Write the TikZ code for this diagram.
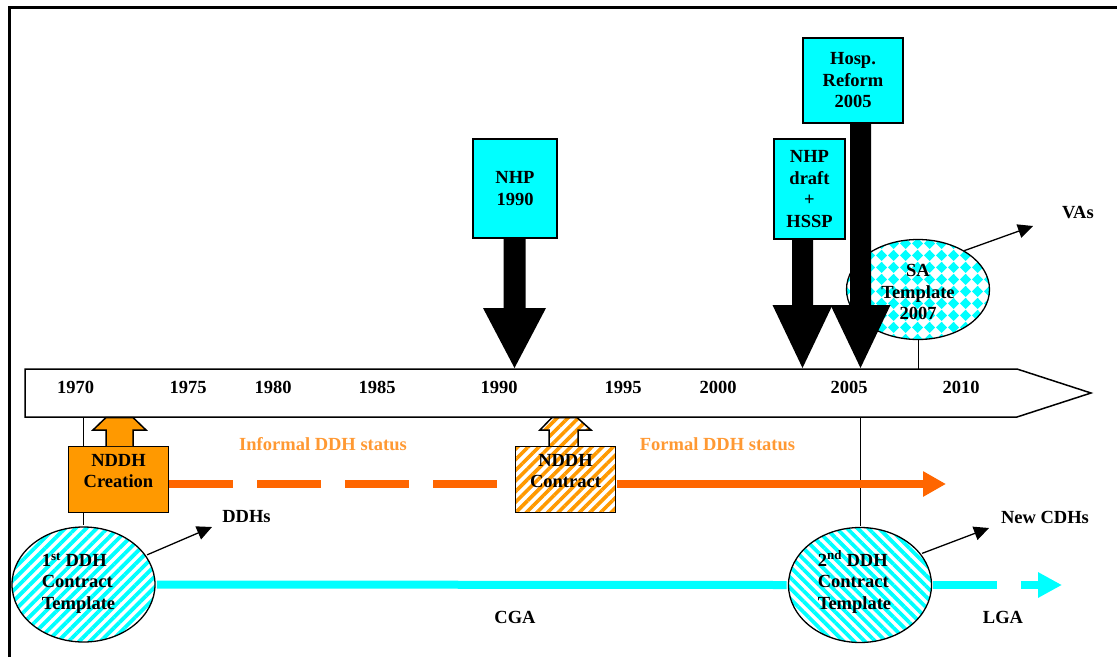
\documentclass[tikz,border=0pt]{standalone}
\usepackage{fontspec}
\setmainfont{Liberation Serif}
\usetikzlibrary{shapes.geometric,patterns.meta,arrows.meta,calc}
\definecolor{cy}{HTML}{00FFFF}
\definecolor{orbox}{HTML}{FF9900}
\definecolor{orline}{HTML}{FF6600}
\definecolor{ortext}{HTML}{FF9933}
\tikzdeclarepattern{
  name=diamonds,
  type=uncolored,
  bounding box={(0pt,0pt) and (12pt,12pt)},
  tile size={(12pt,12pt)},
  code={\fill (6pt,0pt) -- (12pt,6pt) -- (6pt,12pt) -- (0pt,6pt) -- cycle;}
}
\tikzset{
  lbl/.style={font=\fontsize{18.5}{21.5}\selectfont\bfseries, inner sep=0pt, align=center},
  cybox/.style={draw=black, line width=1.5pt, fill=cy, lbl},
  plainbox/.style={draw=black, line width=1.5pt, inner sep=0pt, minimum width=100pt, minimum height=66pt},
  oval/.style={ellipse, draw=black, line width=1.3pt, inner sep=0pt},
  thin/.style={line width=1pt},
  pointer/.style={line width=1.3pt, -{Triangle[length=15pt,width=14pt]}},
  blk/.style={fill=black},
  orlbl/.style={lbl, text=ortext}
}
\newcommand\blkdown[6]{%
  \fill[blk] (#1-#5,#2) -- (#1+#5,#2) -- (#1+#5,#3) -- (#1+#6,#3) -- (#1,#4) -- (#1-#6,#3) -- (#1-#5,#3) -- cycle;}
\begin{document}
\begin{tikzpicture}[x=1pt,y=-1pt]
\useasboundingbox (0,0) rectangle (1117,657);
\fill[white] (0,0) rectangle (1117,657);
% frame
\draw[line width=3pt] (9,657) -- (9,7) -- (1117,7);

% timeline
\draw[line width=1.5pt, fill=white] (25,369) -- (1017,369) -- (1091,393) -- (1017,417) -- (25,417) -- cycle;
\coordinate (ttop) at (0,369);
\coordinate (t1970) at (83,417);
\coordinate (t2005) at (860,417);
\foreach \yr/\xx in {1970/75.5,1975/188,1980/273,1985/377,1990/499,1995/623,2000/718,2005/849,2010/961}
  \node[lbl] (y\yr) at (\xx,387) {\yr};

% SA template
\node[oval, minimum width=143pt, minimum height=100pt, pattern=diamonds, pattern color=cy] (sa) at (918,289.5) {};
\node[lbl] (satxt) at (918,292) {SA\\Template\\2007};
\draw[thin] (sa.south) -- (sa.south |- ttop);
\node[lbl] (vas) at (1078,213) {VAs};
\coordinate (vasend) at (1033,226);
\draw[pointer] (sa.40) -- (vasend);

% top boxes and black arrows
\node[cybox, minimum width=84pt, minimum height=99pt] (nhp) at (515,188.5) {NHP\\1990};
\blkdown{514.5}{238}{308}{368}{11}{31.5}
\node[cybox, minimum width=71pt, minimum height=100pt] (draft) at (809.5,189) {NHP\\draft\\+\\HSSP};
\blkdown{802.5}{239}{305}{368}{10.5}{30}
\node[cybox, minimum width=100pt, minimum height=85pt] (hosp) at (853,80.5) {Hosp.\\Reform\\2005};
\blkdown{860.5}{123}{305}{368}{10.5}{30}

% NDDH creation
\node[plainbox, fill=orbox] (creation) at (118.5,479.5) {};
\node[lbl] (creationtxt) at (118.5,471) {NDDH\\Creation};
\draw[line width=1.5pt, fill=orbox] (106,446) -- (106,430) -- (93,430) -- (106,417.5) -- (133,417.5) -- (146,430) -- (133,430) -- (133,446);
\draw[thin] (t1970) -- (t1970 |- creation.north);

% NDDH contract
\node[plainbox, pattern={Lines[angle=45,distance=7.5pt,line width=3.6pt]}, pattern color=orbox] (contract) at (565.5,479.5) {};
\node[lbl] (contracttxt) at (565.5,471) {NDDH\\Contract};
\draw[line width=1.5pt, pattern={Lines[angle=45,distance=7.5pt,line width=3.6pt]}, pattern color=orbox] (549,446) -- (549,430) -- (540,430) -- (552,417.5) -- (577,417.5) -- (591,430) -- (578,430) -- (578,446);

\node[orlbl] (informal) at (323,444) {Informal DDH status};
\node[orlbl] (formal) at (717.5,444) {Formal DDH status};

% ellipses
\node[oval, minimum width=143pt, minimum height=115pt, pattern={Lines[angle=45,distance=7.5pt,line width=3.8pt]}, pattern color=cy] (e1) at (83.5,584.5) {};
\node[lbl, align=left] (e1txt) at (78.5,583) {1\textsuperscript{st} DDH\\Contract\\Template};
\node[oval, minimum width=143pt, minimum height=115pt, pattern={Lines[angle=-45,distance=7.5pt,line width=3.8pt]}, pattern color=cy] (e2) at (860,585) {};
\node[lbl, align=left] (e2txt) at (854.5,582) {2\textsuperscript{nd} DDH\\Contract\\Template};

\draw[thin] (e1.north |- creation.south) -- (e1.north);
\draw[thin] (t2005) -- (e2.north);

% orange connectors
\draw[orline, line width=8pt, dash pattern=on 64pt off 24pt] ($(creation.east)+(0,4.5)$) -- ($(contract.west)+(0,4.5)$);
\coordinate (formalend) at (946,484);
\draw[orline, line width=8pt, -{Triangle[length=23pt,width=24pt]}] ($(contract.east)+(0,4.5)$) -- (formalend);

% cyan connectors
\draw[cy, line width=8pt] (e1.east) -- (e2.west);
\coordinate (lgagap1) at (997,585);
\coordinate (lgagap2) at (1021,585);
\coordinate (lgaend) at (1062,585);
\draw[cy, line width=8pt] (e2.east) -- (lgagap1);
\draw[cy, line width=8pt, -{Triangle[length=24pt,width=24pt]}] (lgagap2) -- (lgaend);

% pointers and labels
\node[lbl] (ddhs) at (246.5,517) {DDHs};
\coordinate (ddhsend) at (212,527);
\draw[pointer] (e1.25) -- (ddhsend);
\node[lbl] (cdhs) at (1045,517) {New CDHs};
\coordinate (cdhsend) at (989,528);
\draw[pointer] (e2.27) -- (cdhsend);
\node[lbl] (cga) at (515,617) {CGA};
\node[lbl] (lga) at (1003,617) {LGA};
\end{tikzpicture}
\end{document}
